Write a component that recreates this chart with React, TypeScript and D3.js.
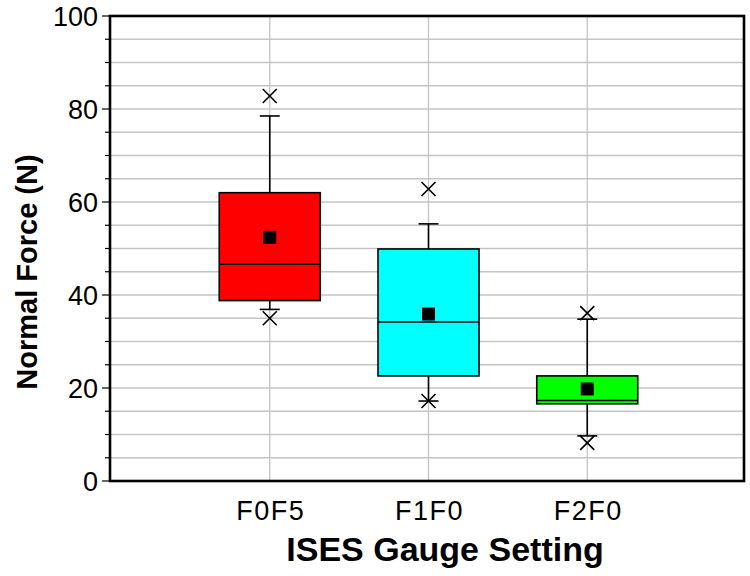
import * as d3 from "d3";

const categories = ["F0F5", "F1F0", "F2F0"];
const boxColors = ["#ff0000", "#00ffff", "#00ff00"];
const q1 = [38.8, 22.6, 16.6];
const median = [46.6, 34.2, 17.3];
const q3 = [62.0, 49.9, 22.6];
const mean = [52.4, 35.9, 19.8];
const whiskerLow = [36.9, 17.2, 9.7];
const whiskerHigh = [78.5, 55.3, 34.8];
const extremeLow = [35.0, 17.2, 8.2];
const extremeHigh = [82.8, 62.8, 36.1];
const yMajorTicks = [0, 20, 40, 60, 80, 100];

const WIDTH = 750;
const HEIGHT = 576;
const PLOT = { left: 110, top: 16, right: 744, bottom: 481 };
const FONT = "Arial, 'Liberation Sans', sans-serif";

export default function App() {
  const x = d3.scaleLinear().domain([0, 4]).range([PLOT.left + 1, PLOT.right + 2]);
  const y = d3.scaleLinear().domain([0, 100]).range([PLOT.bottom, PLOT.top]);
  const minorTicks = d3.range(0, 101, 5);
  const boxW = 101;
  const capW = 20;
  const xs = 7;

  return (
    <svg
      width={WIDTH}
      height={HEIGHT}
      style={{ position: "absolute", left: 0, top: 0, background: "#fff" }}
      fontFamily={FONT}
    >
      {/* horizontal grid */}
      {minorTicks.map((t) => (
        <line
          key={"g" + t}
          x1={PLOT.left}
          x2={PLOT.right}
          y1={y(t)}
          y2={y(t)}
          stroke="#c4c4c4"
          strokeWidth={1.3}
        />
      ))}
      {/* vertical grid at categories */}
      {categories.map((c, i) => (
        <line
          key={"v" + c}
          x1={x(i + 1)}
          x2={x(i + 1)}
          y1={PLOT.top}
          y2={PLOT.bottom}
          stroke="#c4c4c4"
          strokeWidth={1.3}
        />
      ))}
      {/* y ticks */}
      {minorTicks.map((t) => (
        <line
          key={"t" + t}
          x1={t % 20 === 0 ? PLOT.left - 8 : PLOT.left - 5}
          x2={PLOT.left}
          y1={y(t)}
          y2={y(t)}
          stroke="#000"
          strokeWidth={1.2}
        />
      ))}
      {yMajorTicks.map((t) => (
        <text
          key={"l" + t}
          x={PLOT.left - 12}
          y={y(t)}
          dy="0.36em"
          textAnchor="end"
          fontSize={27}
        >
          {t}
        </text>
      ))}
      {/* boxes */}
      {categories.map((c, i) => {
        const cx = x(i + 1);
        const marker = (v: number, key: string) => (
          <path
            key={key}
            d={`M${cx - xs},${y(v) - xs}L${cx + xs},${y(v) + xs}M${cx - xs},${y(v) + xs}L${cx + xs},${y(v) - xs}`}
            stroke="#000"
            strokeWidth={1.6}
            fill="none"
          />
        );
        return (
          <g key={c}>
            <line x1={cx} x2={cx} y1={y(whiskerHigh[i])} y2={y(q3[i])} stroke="#000" strokeWidth={1.6} />
            <line x1={cx} x2={cx} y1={y(q1[i])} y2={y(whiskerLow[i])} stroke="#000" strokeWidth={1.6} />
            <line x1={cx - capW / 2} x2={cx + capW / 2} y1={y(whiskerHigh[i])} y2={y(whiskerHigh[i])} stroke="#000" strokeWidth={1.6} />
            <line x1={cx - capW / 2} x2={cx + capW / 2} y1={y(whiskerLow[i])} y2={y(whiskerLow[i])} stroke="#000" strokeWidth={1.6} />
            <rect
              x={cx - boxW / 2}
              y={y(q3[i])}
              width={boxW}
              height={y(q1[i]) - y(q3[i])}
              fill={boxColors[i]}
              stroke="#000"
              strokeWidth={1.6}
            />
            <line x1={cx - boxW / 2} x2={cx + boxW / 2} y1={y(median[i])} y2={y(median[i])} stroke="#000" strokeWidth={1.4} />
            <rect x={cx - 6.5} y={y(mean[i]) - 6.5} width={13} height={13} fill="#000" />
            {marker(extremeHigh[i], "hi")}
            {marker(extremeLow[i], "lo")}
          </g>
        );
      })}
      {/* frame */}
      <rect
        x={PLOT.left}
        y={PLOT.top}
        width={PLOT.right - PLOT.left}
        height={PLOT.bottom - PLOT.top}
        fill="none"
        stroke="#000"
        strokeWidth={2.6}
      />
      {/* x labels */}
      {categories.map((c, i) => (
        <text
          key={"x" + c}
          x={x(i + 1) + 1}
          y={520}
          textAnchor="middle"
          fontSize={27}
          letterSpacing={1.5}
        >
          {c}
        </text>
      ))}
      <text x={445} y={561} textAnchor="middle" fontSize={34} fontWeight="bold">
        ISES Gauge Setting
      </text>
      <text
        transform={`translate(37,272) rotate(-90)`}
        textAnchor="middle"
        fontSize={29}
        fontWeight="bold"
      >
        Normal Force (N)
      </text>
    </svg>
  );
}
